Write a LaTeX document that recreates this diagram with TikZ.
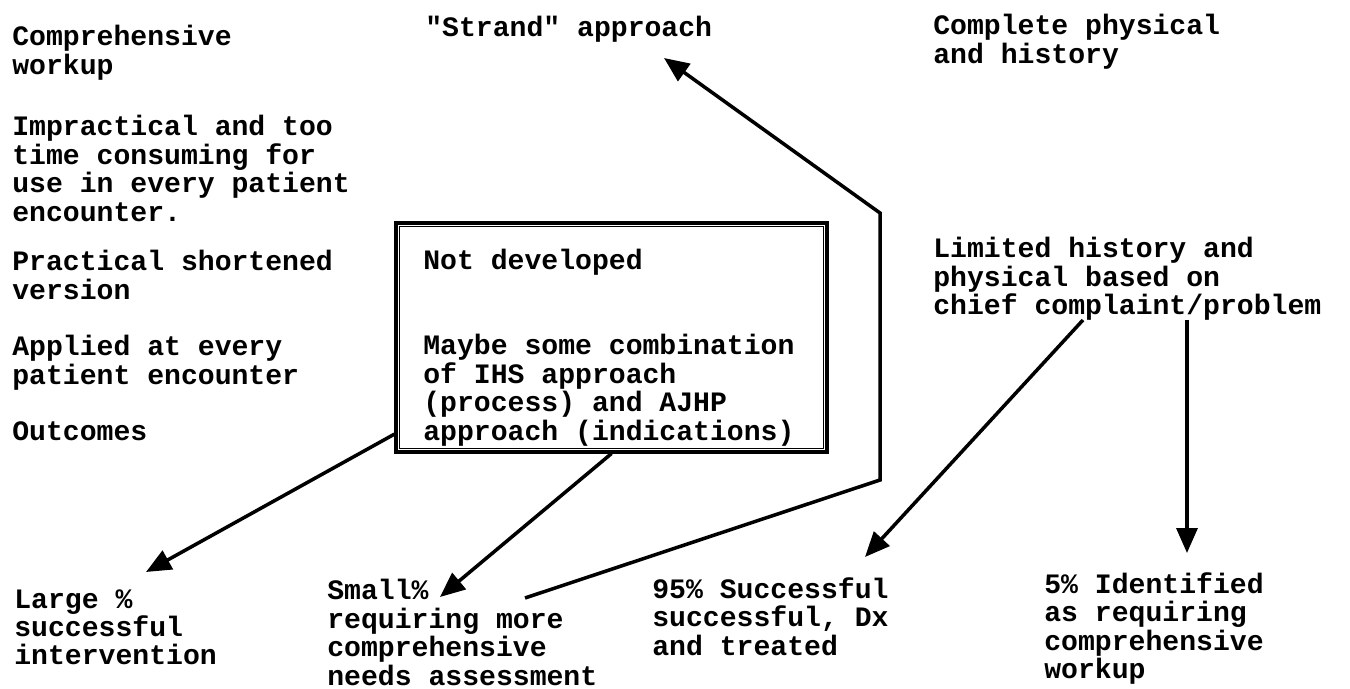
\documentclass[tikz,border=0pt]{standalone}
\usepackage{fontspec}
\usetikzlibrary{positioning,arrows.meta,calc}
\newfontfamily\typewriter{Liberation Mono}
\definecolor{colorink}{RGB}{0,0,0}

\begin{document}
\begin{tikzpicture}[
    x=0.02cm, y=-0.02cm,
    note/.style={text=colorink,anchor=north west,inner sep=0pt,align=left,
        font={\typewriter\bfseries\fontsize{16pt}{16.2pt}\selectfont}},
    panel/.style={draw=colorink,line width=1.8pt,inner sep=0pt,
        minimum width=8.62cm,minimum height=4.58cm},
    flow/.style={draw=colorink,line width=2pt,line join=miter,
        -{Triangle[length=0.5cm,width=0.42cm]}},
]

    \useasboundingbox (0,0) rectangle (1350,689);

    \node[note] (workup) at (12,25) {Comprehensive\\workup};
    \node[note] (imprac) at (12,115) {Impractical and too\\time consuming for\\use in every patient\\encounter.};
    \node[note] (shorter) at (12,250) {Practical shortened\\version};
    \node[note] (applied) at (12,335) {Applied at every\\patient encounter};
    \node[note] (outcomes) at (12,421) {Outcomes};

    \node[note] (strand) at (425,16) {"Strand" approach};

    \node[panel] (box) at (611.5,337.5) {};
    \draw[draw=colorink,line width=0.7pt] ($(box.north west)+(5,5)$) rectangle ($(box.south east)+(-5,-5)$);
    \node[note] (notdev) at (423,249) {Not developed};
    \node[note] (combo) at (423,334) {Maybe some combination\\of IHS approach\\(process) and AJHP\\approach (indications)};

    \node[note] (complete) at (933,14) {Complete physical\\and history};
    \node[note] (limited) at (933,237) {Limited history and\\physical based on\\chief complaint/problem};

    \node[note] (large) at (14,589) {Large \%\\successful\\intervention};
    \node[note] (small) at (327,579) {Small\%\\requiring more\\comprehensive\\needs assessment};
    \node[note] (treated) at (652,577) {95\% Successful\\successful, Dx\\and treated};
    \node[note] (ident) at (1044,572) {5\% Identified\\as requiring\\comprehensive\\workup};

    \coordinate (bendlow) at (880,480);
    \coordinate (bendhigh) at (880,213);

    \draw[flow] (box.204) -- ($(large.north west)+(132,-17)$);
    \draw[flow] (box.south) -- ($(small.north west)+(113,18)$);
    \draw[flow] ($(small.north west)+(198,19)$) -- (bendlow) -- (bendhigh) -- ($(strand.north west)+(239,42)$);
    \draw[flow] ($(limited.north west)+(150,83)$) -- ($(treated.north west)+(213,-20)$);
    \draw[flow] ($(limited.north west)+(254,83)$) -- ($(ident.north west)+(143,-19)$);

\end{tikzpicture}
\end{document}
